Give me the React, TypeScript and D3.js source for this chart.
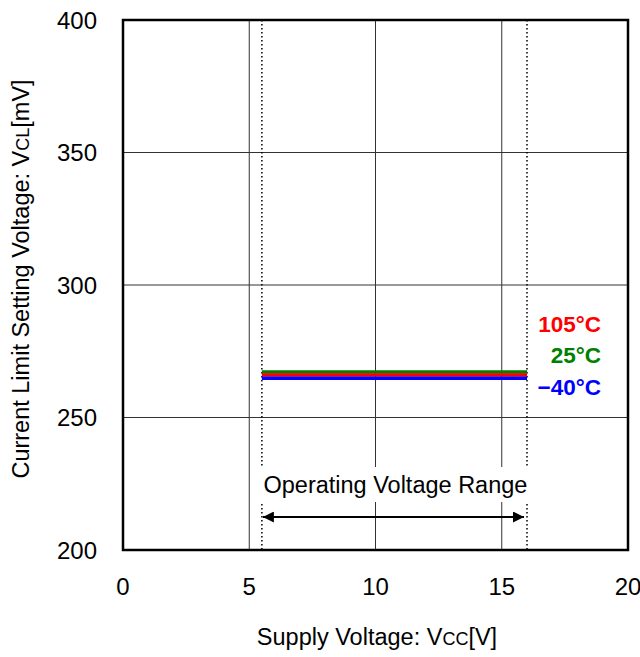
import { useEffect, useRef } from "react";
import * as d3 from "d3";

const xTicks = [0, 5, 10, 15, 20];
const yTicks = [200, 250, 300, 350, 400];
const supplyV = [5.5, 16];
const series = [
  { label: "105°C", color: "#ff0000", values: [266, 266] },
  { label: "25°C", color: "#008000", values: [267.2, 267.2] },
  { label: "\u221240°C", color: "#0000ff", values: [264.8, 264.8] },
];
const drawOrder = [1, 0, 2];
const opRange = [5.5, 16];

export default function App() {
  const ref = useRef<SVGSVGElement>(null);

  useEffect(() => {
    if (!ref.current) return;
    const svg = d3.select(ref.current);
    svg.selectAll("*").remove();

    const m = { left: 123, top: 20, right: 628, bottom: 550 };
    const x = d3.scaleLinear().domain([0, 20]).range([m.left, m.right]);
    const y = d3.scaleLinear().domain([200, 400]).range([m.bottom, m.top]);
    const font = "Liberation Sans, Arial, sans-serif";

    const defs = svg.append("defs");
    defs.append("marker")
      .attr("id", "arr")
      .attr("viewBox", "0 0 10 10")
      .attr("refX", 10).attr("refY", 5)
      .attr("markerWidth", 15).attr("markerHeight", 11)
      .attr("markerUnits", "userSpaceOnUse")
      .attr("orient", "auto-start-reverse")
      .append("path").attr("d", "M0,0L10,5L0,10Z").attr("fill", "#000");

    // grid
    const g = svg.append("g");
    g.selectAll("line.vx").data(xTicks.slice(1, -1)).join("line")
      .attr("x1", d => x(d)).attr("x2", d => x(d))
      .attr("y1", m.top).attr("y2", m.bottom)
      .attr("stroke", "#333").attr("stroke-width", 1);
    g.selectAll("line.hy").data(yTicks.slice(1, -1)).join("line")
      .attr("y1", d => y(d)).attr("y2", d => y(d))
      .attr("x1", m.left).attr("x2", m.right)
      .attr("stroke", "#333").attr("stroke-width", 1);

    // operating range dotted lines
    g.selectAll("line.op").data(opRange).join("line")
      .attr("x1", d => x(d)).attr("x2", d => x(d))
      .attr("y1", m.top).attr("y2", m.bottom)
      .attr("stroke", "#000").attr("stroke-width", 1.5)
      .attr("stroke-dasharray", "1.5 2.5");

    // label box
    g.append("rect")
      .attr("x", x(opRange[0]) - 4).attr("y", 467)
      .attr("width", x(opRange[1]) - x(opRange[0]) + 8).attr("height", 35)
      .attr("fill", "#fff");
    g.append("text")
      .attr("x", (x(opRange[0]) + x(opRange[1])) / 2 + 1).attr("y", 493)
      .attr("text-anchor", "middle")
      .attr("font-family", font).attr("font-size", 23.5)
      .text("Operating Voltage Range");
    g.append("line")
      .attr("x1", x(opRange[0]) + 1).attr("x2", x(opRange[1]) - 3)
      .attr("y1", 517).attr("y2", 517)
      .attr("stroke", "#000").attr("stroke-width", 2)
      .attr("marker-start", "url(#arr)").attr("marker-end", "url(#arr)");

    // series lines
    const line = d3.line<number>().x((_, i) => x(supplyV[i])).y(d => y(d));
    drawOrder.forEach(i => {
      const s = series[i];
      g.append("path")
        .attr("d", line(s.values))
        .attr("fill", "none")
        .attr("stroke", s.color)
        .attr("stroke-width", 3.5);
    });

    // series labels
    const labelY = [332, 363, 395];
    series.forEach((s, i) => {
      g.append("text")
        .attr("x", 601).attr("y", labelY[i])
        .attr("text-anchor", "end")
        .attr("font-family", font).attr("font-size", 22.5).attr("font-weight", "bold")
        .attr("fill", s.color)
        .text(s.label);
    });

    // frame
    g.append("rect")
      .attr("x", m.left).attr("y", m.top)
      .attr("width", m.right - m.left).attr("height", m.bottom - m.top)
      .attr("fill", "none").attr("stroke", "#000").attr("stroke-width", 2.5);

    // tick labels
    g.selectAll("text.xt").data(xTicks).join("text")
      .attr("x", d => x(d)).attr("y", 595)
      .attr("text-anchor", "middle")
      .attr("font-family", font).attr("font-size", 24)
      .text(d => d);
    g.selectAll("text.yt").data(yTicks).join("text")
      .attr("x", 97).attr("y", d => y(d) + 8.5)
      .attr("text-anchor", "end")
      .attr("font-family", font).attr("font-size", 24)
      .text(d => d);

    // axis titles
    const xt = g.append("text")
      .attr("x", 377).attr("y", 645)
      .attr("text-anchor", "middle")
      .attr("font-family", font).attr("font-size", 23.5);
    xt.append("tspan").text("Supply Voltage: V");
    xt.append("tspan").attr("font-size", 18).text("CC");
    xt.append("tspan").text("[V]");

    const yt = g.append("text")
      .attr("transform", `translate(29,${279}) rotate(-90)`)
      .attr("text-anchor", "middle")
      .attr("font-family", font).attr("font-size", 23.5);
    yt.append("tspan").text("Current Limit Setting Voltage: V");
    yt.append("tspan").attr("font-size", 18).text("CL");
    yt.append("tspan").text("[mV]");
  }, []);

  return (
    <svg ref={ref} width={640} height={657}
      style={{ position: "absolute", left: 0, top: 0, background: "#fff" }} />
  );
}
